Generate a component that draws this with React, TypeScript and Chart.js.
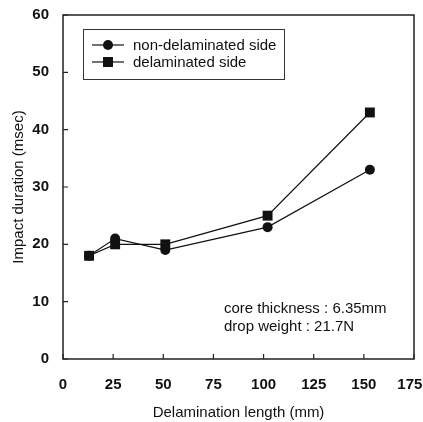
import React, { useEffect, useRef } from "react";
import { Chart, registerables } from "chart.js";

Chart.register(...registerables);

const xValues = [13, 26, 51, 102, 153];
const nonDelaminated = [18, 21, 19, 23, 33];
const delaminated = [18, 20, 20, 25, 43];
const seriesNames = ["non-delaminated side", "delaminated side"];
const notes = ["core thickness : 6.35mm", "drop weight : 21.7N"];
const xTitle = "Delamination length (mm)";
const yTitle = "Impact duration (msec)";

const FONT = "'Liberation Sans', Arial, sans-serif";
const INK = "#111";

const decorPlugin = {
  id: "decor",
  afterDraw(chart: any) {
    const { ctx, chartArea, scales } = chart;
    const { left, right, top, bottom } = chartArea;
    ctx.save();
    // frame
    ctx.strokeStyle = "#222";
    ctx.lineWidth = 1.5;
    ctx.strokeRect(left, top, right - left, bottom - top);
    // inward ticks
    ctx.lineWidth = 1.2;
    ctx.beginPath();
    scales.x.ticks.forEach((t: any) => {
      const px = scales.x.getPixelForValue(t.value);
      ctx.moveTo(px, bottom);
      ctx.lineTo(px, bottom - 5);
    });
    scales.y.ticks.forEach((t: any) => {
      const py = scales.y.getPixelForValue(t.value);
      ctx.moveTo(left, py);
      ctx.lineTo(left + 5, py);
    });
    ctx.stroke();

    // legend box
    const bx = 83, by = 29, bw = 201, bh = 50;
    ctx.strokeStyle = "#333";
    ctx.lineWidth = 1;
    ctx.strokeRect(bx + 0.5, by + 0.5, bw, bh);
    const rows = [45, 62];
    rows.forEach((ry, i) => {
      ctx.strokeStyle = INK;
      ctx.lineWidth = 1.2;
      ctx.beginPath();
      ctx.moveTo(92, ry);
      ctx.lineTo(124, ry);
      ctx.stroke();
      ctx.fillStyle = INK;
      if (i === 0) {
        ctx.beginPath();
        ctx.arc(108, ry, 5, 0, Math.PI * 2);
        ctx.fill();
      } else {
        ctx.fillRect(103, ry - 5, 10, 10);
      }
      ctx.font = `15px ${FONT}`;
      ctx.textBaseline = "middle";
      ctx.textAlign = "left";
      ctx.fillText(seriesNames[i], 133, ry + 1);
    });

    // notes
    ctx.font = `15px ${FONT}`;
    ctx.textBaseline = "alphabetic";
    ctx.fillStyle = INK;
    ctx.fillText(notes[0], 224, 313);
    ctx.fillText(notes[1], 224, 331);
    ctx.restore();
  },
};

export default function App() {
  const ref = useRef<HTMLCanvasElement>(null);
  useEffect(() => {
    if (!ref.current) return;
    const chart = new Chart(ref.current, {
      type: "line",
      data: {
        datasets: [
          {
            label: seriesNames[0],
            data: xValues.map((x, i) => ({ x, y: nonDelaminated[i] })),
            borderColor: INK,
            backgroundColor: INK,
            borderWidth: 1.2,
            pointStyle: "circle",
            pointRadius: 5,
            pointBorderWidth: 0,
          },
          {
            label: seriesNames[1],
            data: xValues.map((x, i) => ({ x, y: delaminated[i] })),
            borderColor: INK,
            backgroundColor: INK,
            borderWidth: 1.2,
            pointStyle: "rect",
            pointRadius: 7,
            pointBorderWidth: 0,
          },
        ],
      },
      options: {
        responsive: false,
        animation: false,
        layout: { padding: { left: 0, right: 9, top: 15, bottom: 0 } },
        plugins: { legend: { display: false }, tooltip: { enabled: false } },
        scales: {
          x: {
            type: "linear",
            min: 0,
            max: 175,
            ticks: {
              stepSize: 25,
              color: INK,
              padding: 9,
              font: { family: FONT, size: 15, weight: "bold" },
              callback: (v: any) => (v === 175 ? "175  " : String(v)),
            },
            grid: { display: false },
            border: { display: false },
            title: {
              display: true,
              text: xTitle,
              color: INK,
              font: { family: FONT, size: 15 },
              padding: { top: 22, bottom: 0 },
            },
            afterFit(s: any) {
              s.height = 63;
              s.paddingLeft = 0;
              s.paddingRight = 0;
            },
          },
          y: {
            min: 0,
            max: 60,
            ticks: {
              stepSize: 10,
              color: INK,
              padding: 6,
              font: { family: FONT, size: 15, weight: "bold" },
            },
            grid: { display: false },
            border: { display: false },
            title: {
              display: true,
              text: yTitle,
              color: INK,
              font: { family: FONT, size: 15 },
              padding: { top: 10, bottom: 0 },
            },
            afterFit(s: any) {
              s.width = 63;
              s.paddingTop = 0;
              s.paddingBottom = 0;
            },
          },
        },
      },
      plugins: [decorPlugin],
    } as any);
    return () => chart.destroy();
  }, []);
  return (
    <div style={{ position: "fixed", left: 0, top: 0, width: 423, height: 422, background: "#fff" }}>
      <canvas ref={ref} width={423} height={422} style={{ display: "block" }} />
    </div>
  );
}
